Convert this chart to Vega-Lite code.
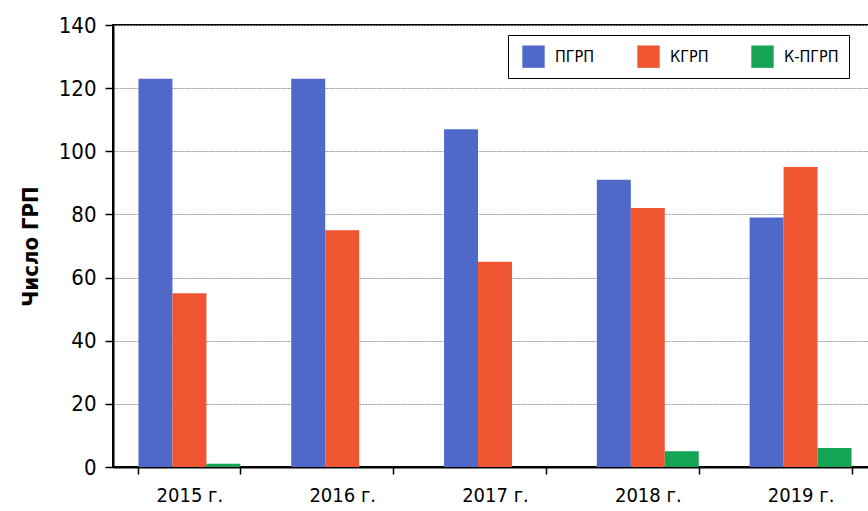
{
  "$schema": "https://vega.github.io/schema/vega-lite/v6.json",
  "width": 764,
  "height": 442,
  "autosize": {"type": "none"},
  "padding": {"left": 113, "top": 25, "right": 0, "bottom": 44},
  "background": "white",
  "config": {
    "font": "DejaVu Sans Condensed, Liberation Sans, sans-serif",
    "view": {"stroke": "black", "strokeWidth": 2}
  },
  "data": {
    "values": [
      {"year": "2015 г.", "type": "ПГРП", "value": 123},
      {"year": "2015 г.", "type": "КГРП", "value": 55},
      {"year": "2015 г.", "type": "К-ПГРП", "value": 1},
      {"year": "2016 г.", "type": "ПГРП", "value": 123},
      {"year": "2016 г.", "type": "КГРП", "value": 75},
      {"year": "2016 г.", "type": "К-ПГРП", "value": 0},
      {"year": "2017 г.", "type": "ПГРП", "value": 107},
      {"year": "2017 г.", "type": "КГРП", "value": 65},
      {"year": "2017 г.", "type": "К-ПГРП", "value": 0},
      {"year": "2018 г.", "type": "ПГРП", "value": 91},
      {"year": "2018 г.", "type": "КГРП", "value": 82},
      {"year": "2018 г.", "type": "К-ПГРП", "value": 5},
      {"year": "2019 г.", "type": "ПГРП", "value": 79},
      {"year": "2019 г.", "type": "КГРП", "value": 95},
      {"year": "2019 г.", "type": "К-ПГРП", "value": 6}
    ]
  },
  "mark": {"type": "bar"},
  "encoding": {
    "x": {
      "field": "year",
      "type": "nominal",
      "sort": null,
      "scale": {"paddingInner": 0.333, "paddingOuter": 0.1667},
      "axis": {
        "title": null,
        "labelAngle": 0,
        "labelFontSize": 20,
        "labelColor": "black",
        "labelPadding": 11,
        "tickBand": "extent",
        "tickColor": "black",
        "tickSize": 7,
        "tickWidth": 1.5,
        "domainColor": "black",
        "domainWidth": 2,
        "grid": false
      }
    },
    "xOffset": {
      "field": "type",
      "type": "nominal",
      "sort": ["ПГРП", "КГРП", "К-ПГРП"],
      "scale": {"paddingInner": 0, "paddingOuter": 0}
    },
    "y": {
      "field": "value",
      "type": "quantitative",
      "scale": {"domain": [0, 140], "nice": false},
      "axis": {
        "title": "Число ГРП",
        "titleFontSize": 22,
        "titleFontWeight": "bold",
        "titleColor": "black",
        "titlePadding": 16,
        "values": [0, 20, 40, 60, 80, 100, 120, 140],
        "labelFontSize": 22,
        "labelColor": "black",
        "labelPadding": 9,
        "tickColor": "black",
        "tickSize": 8,
        "tickWidth": 1.5,
        "domainColor": "black",
        "domainWidth": 2,
        "grid": true,
        "gridColor": "#999999",
        "gridDash": [2, 1],
        "gridWidth": 1.2
      }
    },
    "color": {
      "field": "type",
      "type": "nominal",
      "sort": ["ПГРП", "КГРП", "К-ПГРП"],
      "scale": {
        "domain": ["ПГРП", "КГРП", "К-ПГРП"],
        "range": ["#5068c8", "#ee5530", "#14a453"]
      },
      "legend": {
        "title": null,
        "orient": "none",
        "legendX": 395,
        "legendY": 10,
        "direction": "horizontal",
        "columns": 3,
        "symbolType": "square",
        "symbolSize": 500,
        "symbolStrokeWidth": 0,
        "labelFontSize": 16,
        "labelColor": "black",
        "columnPadding": 38,
        "padding": 10,
        "strokeColor": "black",
        "fillColor": "white",
        "symbolOffset": 4,
        "labelOffset": 10
      }
    }
  }
}
